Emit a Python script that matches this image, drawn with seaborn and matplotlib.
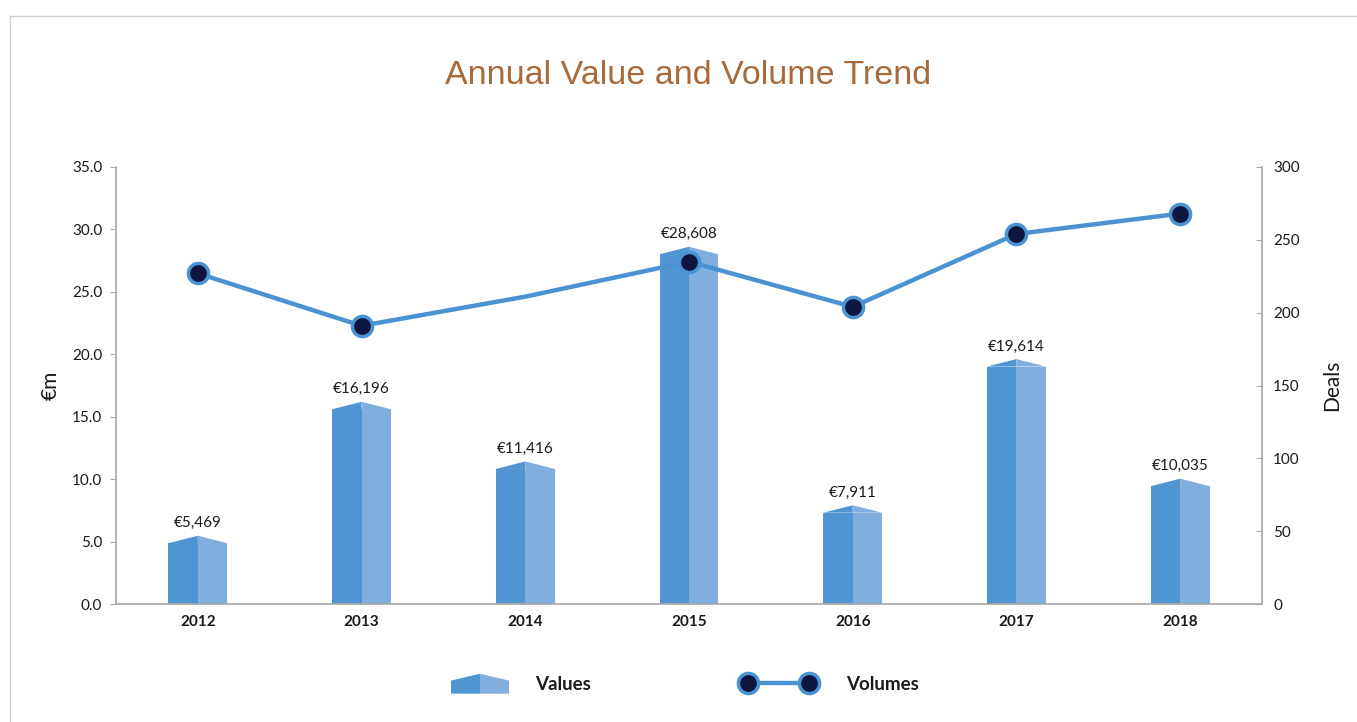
import numpy as np
import pandas as pd
import matplotlib
matplotlib.use("Agg")
import matplotlib.pyplot as plt
import seaborn as sb
from matplotlib.patches import Polygon
from matplotlib.lines import Line2D
from matplotlib.legend_handler import HandlerBase

years = ["2012", "2013", "2014", "2015", "2016", "2017", "2018"]
values = [5469, 16196, 11416, 28608, 7911, 19614, 10035]   # €m
volumes = [227, 191, 211, 235, 204, 254, 268]              # deals

c_left = "#4F95D1"
c_right = "#81AEDC"
c_line = "#4A92D2"
c_mark = "#0E1640"
grey = "#A6A6A6"
ink = "#1A1A1A"
roof = 0.6

sb.set_style("white", {"text.color": ink, "axes.labelcolor": ink,
                       "xtick.color": ink, "ytick.color": ink})
plt.rcParams["font.family"] = ["Lato", "DejaVu Sans"]

# long table: the two halves of each bar are drawn as a dodged hue
vals_m = np.array(values) / 1000.0
df = pd.DataFrame({
    "year": years * 2,
    "side": ["left"] * len(years) + ["right"] * len(years),
    "body": list(vals_m - roof) * 2,
})

fig = plt.figure(figsize=(13.57, 7.22), dpi=100)
ax = fig.add_axes([116 / 1357, 1 - 604 / 722, (1262 - 116) / 1357, (604 - 167) / 722])

sb.barplot(data=df, x="year", y="body", hue="side", hue_order=["left", "right"],
           palette=[c_left, c_right], width=0.36, dodge=True, saturation=1,
           linewidth=0, legend=False, ax=ax)

# roofs on top of each half
n = len(years)
for k, p in enumerate(ax.patches[:2 * n]):
    i = k % n
    x0, w, h = p.get_x(), p.get_width(), p.get_height()
    if k < n:
        pts = [(x0, h), (x0 + w, vals_m[i]), (x0 + w, h)]
    else:
        pts = [(x0, h), (x0, vals_m[i]), (x0 + w, h)]
    ax.add_patch(Polygon(pts, closed=True, facecolor=p.get_facecolor(), lw=0))

for i, v in enumerate(values):
    ax.text(i, vals_m[i] + 0.45, f"€{v:,}", ha="center", va="bottom", fontsize=11, color=ink)

ax.set_xlim(-0.5, 6.5)
ax.set_ylim(0, 35)
ax.set_yticks(np.arange(0, 35.1, 5))
ax.set_yticklabels([f"{t:.1f}" for t in np.arange(0, 35.1, 5)], fontsize=11)
ax.set_xlabel("")
ax.set_ylabel("€m", fontsize=15, labelpad=8, color=ink)
for lbl in ax.get_xticklabels():
    lbl.set_fontweight("bold")
    lbl.set_fontsize(11)
ax.tick_params(axis="x", length=0, pad=8, labelcolor=ink)
ax.tick_params(axis="y", length=4, color=grey, direction="out", pad=6, labelcolor=ink)
for s in ["top", "right"]:
    ax.spines[s].set_visible(False)
for s in ["left", "bottom"]:
    ax.spines[s].set_color(grey)
    ax.spines[s].set_linewidth(1.2)

ax2 = ax.twinx()
sb.lineplot(x=np.arange(n), y=volumes, ax=ax2, color=c_line, lw=3.2,
            marker="o", markersize=14.5, markerfacecolor=c_mark, markeredgecolor=c_line,
            markeredgewidth=2.5, markevery=[0, 1, 3, 4, 5, 6])
ax2.set_ylim(0, 300)
ax2.set_yticks(np.arange(0, 301, 50))
ax2.set_yticklabels([str(t) for t in range(0, 301, 50)], fontsize=11)
ax2.set_ylabel("Deals", fontsize=15, labelpad=16, color=ink)
ax2.tick_params(axis="y", length=4, color=grey, direction="in", pad=8, labelcolor=ink)
for s in ["top", "left", "bottom"]:
    ax2.spines[s].set_visible(False)
ax2.spines["right"].set_color(grey)
ax2.spines["right"].set_linewidth(1.2)
ax2.grid(False)
ax.set_xlim(-0.5, 6.5)

fig.text(688 / 1357, 1 - 75 / 722, "Annual Value and Volume Trend", ha="center", va="center",
         fontsize=24.5, color="#A86A3A", family=["Liberation Sans", "DejaVu Sans"])

# frame lines of the original panel
fig.add_artist(Line2D([10 / 1357, 10 / 1357], [0, 1 - 16 / 722], color="#D0D0D0", lw=1))
fig.add_artist(Line2D([10 / 1357, 1], [1 - 16 / 722, 1 - 16 / 722], color="#D0D0D0", lw=1))


class RoofHandler(HandlerBase):
    def create_artists(self, legend, orig_handle, xdescent, ydescent, width, height, fontsize, trans):
        w = 41.8
        x1 = -xdescent + width + 4.3
        x0 = x1 - w
        y0 = -ydescent - 3.0
        hb, hr = 9.4, 5.0
        left = Polygon([(x0, y0), (x0, y0 + hb), (x0 + w / 2, y0 + hb + hr), (x0 + w / 2, y0)],
                       closed=True, facecolor=c_left, lw=0, transform=trans)
        right = Polygon([(x0 + w / 2, y0), (x0 + w / 2, y0 + hb + hr), (x1, y0 + hb), (x1, y0)],
                        closed=True, facecolor=c_right, lw=0, transform=trans)
        return [left, right]


val_handle = Polygon([(0, 0)], closed=True)
vol_handle = Line2D([], [], color=c_line, lw=3.2, marker="o", markersize=14.5,
                    markerfacecolor=c_mark, markeredgecolor=c_line, markeredgewidth=2.5)
leg = fig.legend([val_handle, vol_handle], ["Values", "Volumes"],
                 handler_map={Polygon: RoofHandler()}, loc="center",
                 bbox_to_anchor=(675 / 1357, 1 - 684 / 722), ncol=2, frameon=False,
                 numpoints=2, handlelength=3.86, handletextpad=1.7, columnspacing=8.07,
                 prop={"weight": "bold", "size": 13.5})
for t in leg.get_texts():
    t.set_color(ink)

plt.savefig("out.png", dpi=100)
